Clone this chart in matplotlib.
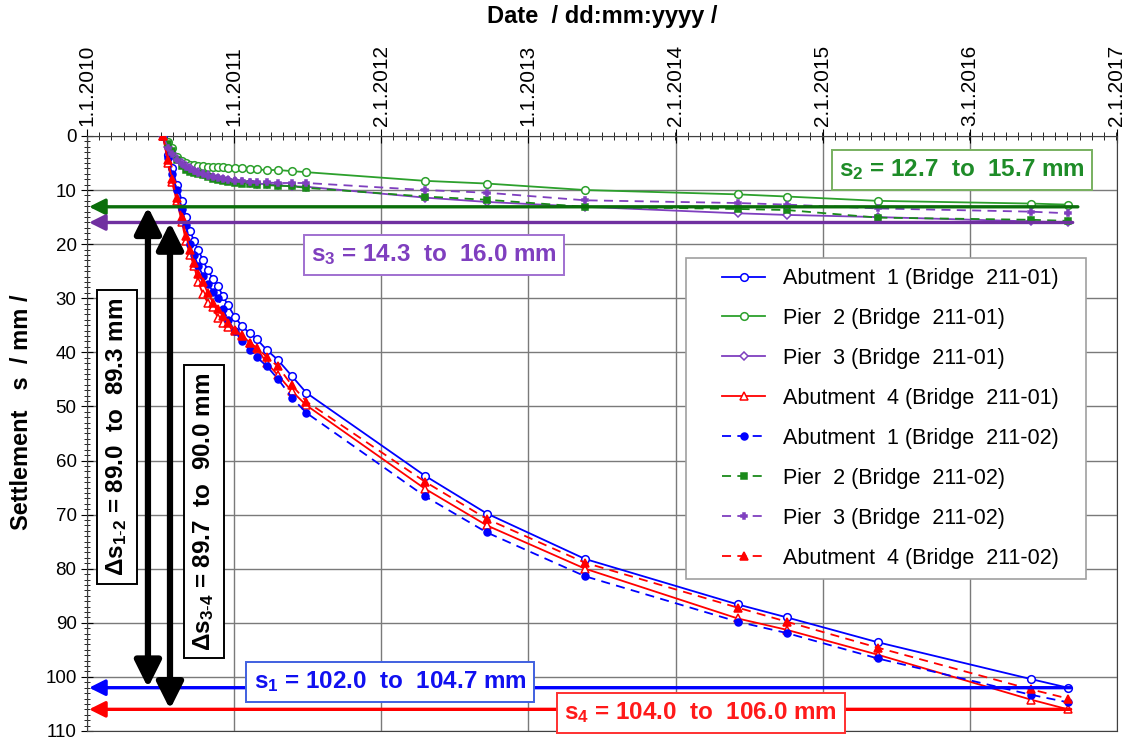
import matplotlib.pyplot as plt
import matplotlib.dates as mdates
from matplotlib.ticker import MultipleLocator
from matplotlib.legend_handler import HandlerLine2D
from datetime import datetime

plt.rcParams['font.family'] = ['Liberation Sans', 'DejaVu Sans']
plt.rcParams['mathtext.fontset'] = 'custom'
plt.rcParams['mathtext.rm'] = 'Liberation Sans'
plt.rcParams['mathtext.bf'] = 'Liberation Sans:bold'
plt.rcParams['mathtext.it'] = 'Liberation Sans:italic'

# measurement dates (same for both bridges)
dates = ['2010-07-09', '2010-07-21', '2010-07-31', '2010-08-12', '2010-08-25',
         '2010-09-04', '2010-09-14', '2010-09-24', '2010-10-04', '2010-10-16',
         '2010-10-28', '2010-11-10', '2010-11-22', '2010-12-05', '2010-12-17',
         '2011-01-03', '2011-01-21', '2011-02-10', '2011-02-27', '2011-03-24',
         '2011-04-20', '2011-05-25', '2011-06-30', '2012-04-19', '2012-09-20',
         '2013-05-22', '2014-06-05', '2014-10-05', '2015-05-19', '2016-06-02',
         '2016-09-02']

# settlements in mm
abut1_01 = [0, 3.5, 6, 9, 12, 15, 17.5, 19.5, 21, 23,
            24.8, 26.5, 27.8, 29.6, 31.3, 33.4, 35.2, 36.5, 37.6, 39.6,
            41.4, 44.4, 47.5, 62.8, 69.8, 78.2, 86.6, 89.0, 93.6, 100.4, 102.0]
pier2_01 = [0, 1.1, 2.2, 3.9, 4.6, 5.0, 5.3, 5.4, 5.5, 5.6,
            5.7, 5.7, 5.8, 5.8, 5.9, 5.9, 6.0, 6.1, 6.2, 6.3,
            6.3, 6.5, 6.7, 8.3, 8.8, 10.0, 10.8, 11.2, 12.0, 12.5, 12.7]
pier3_01 = [0, 2.0, 3.2, 4.2, 5.0, 5.6, 6.0, 6.4, 6.7, 7.0,
            7.3, 7.6, 7.8, 8.0, 8.2, 8.4, 8.6, 8.7, 8.8, 8.9,
            9.1, 9.3, 9.4, 11.4, 12.2, 13.1, 14.3, 14.6, 15.0, 15.8, 16.0]
abut4_01 = [0, 5, 8.5, 12, 16, 19.5, 22, 24, 27, 29.2,
            30.8, 31.7, 33.6, 34.5, 35.3, 36.0, 36.8, 38.3, 39.3, 42.0,
            44.2, 47.2, 49.8, 65.2, 72.0, 80.0, 89.2, 91.3, 95.9, 104.2, 106.0]
abut1_02 = [0, 4, 7, 10, 13.5, 16.5, 20.0, 22, 24, 25.8,
            27.3, 28.8, 29.9, 32, 34, 36, 38, 39.5, 40.9, 42.6,
            44.9, 48.4, 51.2, 66.6, 73.3, 81.4, 89.8, 91.9, 96.6, 103.3, 104.7]
pier2_02 = [0, 1.5, 2.8, 4.4, 5.5, 6.3, 6.6, 6.9, 7.1, 7.3,
            7.6, 7.9, 8.1, 8.3, 8.5, 8.7, 8.8, 8.9, 9.0, 9.1,
            9.2, 9.3, 9.6, 11.2, 11.8, 13.1, 13.5, 13.7, 15.1, 15.5, 15.7]
pier3_02 = [0, 2.2, 3.4, 4.4, 5.2, 5.8, 6.2, 6.5, 6.8, 7.1,
            7.4, 7.6, 7.8, 8.0, 8.1, 8.3, 8.4, 8.5, 8.6, 8.6,
            8.7, 8.7, 8.7, 10.0, 10.5, 11.9, 12.4, 12.7, 13.4, 14.0, 14.3]
abut4_02 = [0, 4.5, 8, 11.5, 15, 18.5, 21, 23.5, 25.5, 27,
            29, 30.8, 32, 33.3, 34.5, 35.8, 37, 38.2, 39.2, 40.9,
            42.6, 46.1, 49.1, 63.9, 70.8, 78.9, 87.2, 89.8, 94.6, 102.3, 104.0]

tick_dates = ['2010-01-01', '2011-01-01', '2012-01-02', '2013-01-01',
              '2014-01-02', '2015-01-02', '2016-01-03', '2017-01-02']

# final settlement levels marked by arrows
lev_s2 = 13.1
lev_s3 = 16.0
lev_s1 = 102.0
lev_s4 = 106.0

BLUE = '#0000FF'
GREEN = '#2CA02C'
GREEN2 = '#1A8A1A'
PURPLE = '#7F3FBF'
RED = '#FF0000'

x = [datetime.strptime(d, '%Y-%m-%d') for d in dates]
tdates = [datetime.strptime(d, '%Y-%m-%d') for d in tick_dates]

fig = plt.figure(figsize=(11.31, 7.40), dpi=100)
ax = fig.add_axes([0.0769, 0.0122, 0.9107, 0.8041])

dash = (0, (5, 3.5))
series = [
    (abut1_01, 'Abutment  1 (Bridge  211-01)', BLUE, '-', 'o', 'white', 5.5),
    (pier2_01, 'Pier  2 (Bridge  211-01)', GREEN, '-', 'o', 'white', 5.5),
    (pier3_01, 'Pier  3 (Bridge  211-01)', PURPLE, '-', 'D', 'white', 4.5),
    (abut4_01, 'Abutment  4 (Bridge  211-01)', RED, '-', '^', 'white', 6),
    (abut1_02, 'Abutment  1 (Bridge  211-02)', BLUE, dash, 'o', BLUE, 5),
    (pier2_02, 'Pier  2 (Bridge  211-02)', GREEN2, dash, 's', GREEN2, 4),
    (pier3_02, 'Pier  3 (Bridge  211-02)', PURPLE, dash, 'P', PURPLE, 5),
    (abut4_02, 'Abutment  4 (Bridge  211-02)', RED, dash, '^', RED, 5.5),
]
for vals, lab, col, ls, mk, mfc, ms in series:
    ax.plot(x, vals, color=col, ls=ls, lw=1.3, marker=mk, ms=ms,
            mfc=mfc, mec=col, mew=1.1, label=lab, zorder=4)

# axes formatting
ax.set_xlim(tdates[0], tdates[-1])
ax.set_ylim(110, 0)
ax.xaxis.tick_top()
ax.xaxis.set_label_position('top')
ax.set_xticks(mdates.date2num(tdates),
              [f'{d.day}.{d.month}.{d.year}' for d in tdates], rotation=90)
ax.xaxis.set_minor_locator(MultipleLocator(365.25 / 12))
ax.yaxis.set_major_locator(MultipleLocator(10))
ax.yaxis.set_minor_locator(MultipleLocator(1))
ax.tick_params(axis='x', which='major', direction='inout', length=10,
               top=True, bottom=False, labelsize=15, pad=2)
ax.tick_params(axis='x', which='minor', direction='inout', length=6,
               top=True, bottom=False)
ax.tick_params(axis='y', which='major', direction='inout', length=9,
               labelsize=13.5, pad=3)
ax.tick_params(axis='y', which='minor', direction='inout', length=5)
ax.grid(which='major', color='#7a7a7a', lw=1.0)
for sp in ax.spines.values():
    sp.set_color('#404040')

ax.set_xlabel('Date  / dd:mm:yyyy /', fontsize=17, fontweight='bold', labelpad=16)
ax.set_ylabel('Settlement   s  / mm /', fontsize=17, fontweight='bold')
ax.yaxis.set_label_coords(-0.052, 0.535)

# horizontal arrows for final settlement levels
ytr = ax.get_yaxis_transform()
for lev, col, xe in [(lev_s2, '#0B6E0B', 0.962), (lev_s3, '#7030A0', 0.957),
                     (lev_s1, '#0000FF', 0.955), (lev_s4, '#FF0000', 0.955)]:
    ax.annotate('', xy=(0.002, lev), xycoords=ytr, xytext=(xe, lev),
                textcoords=ytr,
                arrowprops=dict(arrowstyle='-|>', color=col, lw=2.4,
                                mutation_scale=24, shrinkA=0, shrinkB=0),
                zorder=5)

# black double arrows
for xa, top, bot in [(0.0592, lev_s2, lev_s1), (0.0806, lev_s3, lev_s4)]:
    ax.annotate('', xy=(xa, bot), xycoords=ytr, xytext=(xa, top),
                textcoords=ytr,
                arrowprops=dict(arrowstyle='<|-|>', color='black', lw=4.5,
                                mutation_scale=40, shrinkA=0, shrinkB=0),
                zorder=6)

# label boxes
def box_label(xf, yf, txt, col, ec, rot=0):
    ax.text(xf, yf, txt, transform=ax.transAxes, ha='center', va='center',
            fontsize=17.5, fontweight='bold', color=col, rotation=rot,
            bbox=dict(boxstyle='square,pad=0.3', fc='white', ec=ec, lw=1.4),
            zorder=7)

box_label(0.8495, 0.9429, r's$_\mathbf{2}$ = 12.7  to  15.7 mm', '#1E8C28', '#78B060')
box_label(0.3369, 0.800, r's$_\mathbf{3}$ = 14.3  to  16.0 mm', PURPLE, '#A070D0')
box_label(0.2942, 0.0824, r's$_\mathbf{1}$ = 102.0  to  104.7 mm', '#1010F0', '#4060E0')
box_label(0.5961, 0.0303, r's$_\mathbf{4}$ = 104.0  to  106.0 mm', '#FF1A1A', '#FF3030')
box_label(0.0291, 0.4941, r'Δs$_\mathbf{1\text{-}2}$ = 89.0  to  89.3 mm', 'black', 'black', rot=90)
box_label(0.1136, 0.3681, r'Δs$_\mathbf{3\text{-}4}$ = 89.7  to  90.0 mm', 'black', 'black', rot=90)

hmap = {ln: HandlerLine2D(xpad=1.2) for ln in ax.get_lines()}
leg = ax.legend(loc='upper left', bbox_to_anchor=(0.5816, 0.267, 0.3883, 0.528),
                mode='expand', borderaxespad=0,
                fontsize=15.5, handlelength=3.2, labelspacing=0.88,
                handletextpad=0.84, borderpad=0.47, fancybox=False, framealpha=1,
                edgecolor='#A0A0A0', handler_map=hmap)
leg.get_frame().set_linewidth(1.2)
leg.set_zorder(8)

fig.savefig('out.png', dpi=100)
